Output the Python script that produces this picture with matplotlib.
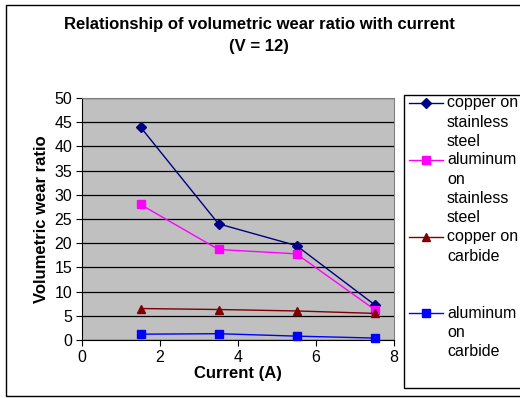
import matplotlib
matplotlib.use("Agg")
import matplotlib.pyplot as plt
from matplotlib.patches import Rectangle
from matplotlib.lines import Line2D

plt.rcParams['font.family'] = ['Liberation Sans', 'DejaVu Sans']

current = [1.5, 3.5, 5.5, 7.5]
copper_ss = [44.0, 24.0, 19.5, 7.3]
aluminum_ss = [28.0, 18.7, 17.8, 6.3]
copper_carbide = [6.5, 6.3, 6.0, 5.5]
aluminum_carbide = [1.2, 1.3, 0.8, 0.4]

labels = ["copper on\nstainless\nsteel",
          "aluminum\non\nstainless\nsteel",
          "copper on\ncarbide",
          "aluminum\non\ncarbide"]
series = [copper_ss, aluminum_ss, copper_carbide, aluminum_carbide]
colors = ["#000080", "#FF00FF", "#800000", "#0000FF"]
markers = ["D", "s", "^", "s"]
msizes = [5, 5.5, 6, 5.5]

W, H = 520, 398
fig = plt.figure(figsize=(W / 100, H / 100), dpi=100)

def fx(px):
    return px / W

def fy(py):
    return 1 - py / H

# outer chart border
fig.patches.append(Rectangle((fx(6), fy(396)), fx(530) - fx(6), fy(5) - fy(396),
                             transform=fig.transFigure, fill=False,
                             edgecolor="black", lw=1.0))

ax = fig.add_axes([fx(82), fy(340), fx(394) - fx(82), fy(98) - fy(340)])
ax.set_facecolor("#C0C0C0")
for s, c, m, ms in zip(series, colors, markers, msizes):
    ax.plot(current, s, color=c, marker=m, markersize=ms, lw=1.0,
            markerfacecolor=c, markeredgecolor=c, clip_on=False, zorder=3)

ax.set_xlim(0, 8)
ax.set_ylim(0, 50)
ax.set_xticks(range(0, 9, 2))
ax.set_yticks(range(0, 51, 5))
ax.yaxis.grid(True, color="black", lw=0.9)
ax.set_axisbelow(True)
ax.tick_params(direction="out", length=4, width=0.8, labelsize=11.5, color="black", pad=3)
for sp in ["top", "right"]:
    ax.spines[sp].set_color("#808080")
    ax.spines[sp].set_linewidth(0.8)
for sp in ["left", "bottom"]:
    ax.spines[sp].set_color("black")
    ax.spines[sp].set_linewidth(0.8)

ax.set_xlabel("Current (A)", fontsize=12, fontweight="bold", labelpad=1)
ax.set_ylabel("Volumetric wear ratio", fontsize=12, fontweight="bold", labelpad=4)

fig.text(fx(259), fy(25), "Relationship of volumetric wear ratio with current",
         ha="center", va="center", fontsize=12, fontweight="bold")
fig.text(fx(259), fy(47), "(V = 12)", ha="center", va="center",
         fontsize=12, fontweight="bold")

# legend box drawn by hand
fig.patches.append(Rectangle((fx(404), fy(388)), fx(530) - fx(404), fy(95) - fy(388),
                             transform=fig.transFigure, facecolor="white",
                             edgecolor="black", lw=1.0))
entry_y = [103, 160, 237, 313]
line_step = 19.3
for lab, c, m, ms, y0 in zip(labels, colors, markers, msizes, entry_y):
    fig.add_artist(Line2D([fx(409), fx(443)], [fy(y0), fy(y0)], color=c, lw=1.0,
                          transform=fig.transFigure))
    fig.add_artist(Line2D([fx(426)], [fy(y0)], color=c, marker=m, markersize=ms,
                          markerfacecolor=c, markeredgecolor=c,
                          transform=fig.transFigure))
    for i, part in enumerate(lab.split("\n")):
        fig.text(fx(447), fy(y0 + i * line_step), part, ha="left", va="center",
                 fontsize=11.5)

fig.savefig("out.png", dpi=100)
